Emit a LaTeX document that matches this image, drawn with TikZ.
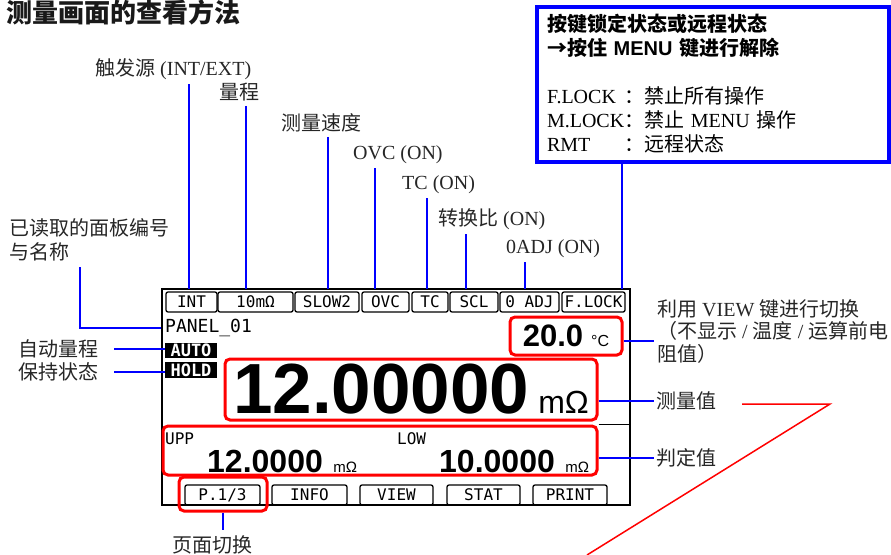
\documentclass[tikz,border=0pt]{standalone}
\usepackage{fontspec}
\setmainfont{Liberation Serif}
\setsansfont{Liberation Sans}
\newfontfamily\cjk{Noto Sans CJK SC}
\newfontfamily\lcd{DejaVu Sans Mono}
\newcommand\zh[1]{{\cjk #1}}
\usepackage{tikz}
\usetikzlibrary{positioning}

\begin{document}
\begin{tikzpicture}[x=1pt, y=-1pt,
    lbl/.style={inner sep=2pt, text=black!85, font=\fontsize{20}{24}\selectfont},
    lead/.style={draw=blue, line width=2pt},
    hl/.style={draw=red, line width=3pt, rounded corners=5pt, inner sep=0pt},
    tab/.style={draw, line width=1.3pt, rounded corners=2pt, inner sep=0pt, minimum height=20pt, font=\lcd\fontsize{16}{18}\selectfont},
    rev/.style={fill=black, text=white, inner sep=0pt, minimum width=52pt, font=\lcd\bfseries\fontsize{17}{17}\selectfont},
    big/.style={inner sep=0pt, font=\sffamily\bfseries\fontsize{32}{32}\selectfont},
    unit/.style={inner sep=0pt, font=\sffamily\fontsize{15}{15}\selectfont}
]
\useasboundingbox (0,0) rectangle (891,554);
\clip (0,0) rectangle (891,554);

\node[anchor=base west, inner sep=0pt, text=black!90, font=\cjk\bfseries\fontsize{26}{30}\selectfont] (title) at (6,23) {测量画面的查看方法};

% screen
\node[draw, line width=1.5pt, minimum width=468pt, minimum height=216pt, inner sep=0pt] (frame) at (396,397) {};
\node[tab, minimum width=51pt] (tInt) at (191.5,302) {INT};
\node[tab, minimum width=75pt] (tRange) at (255.5,302) {10mΩ};
\node[tab, minimum width=64pt] (tSpeed) at (327,302) {SLOW2};
\node[tab, minimum width=47pt] (tOvc) at (385.5,302) {OVC};
\node[tab, minimum width=36pt] (tTc) at (430,302) {TC};
\node[tab, minimum width=48pt] (tScl) at (474,302) {SCL};
\node[tab, minimum width=59pt] (tAdj) at (529.5,302) {0 ADJ};
\node[tab, minimum width=63pt] (tLock) at (593.5,302) {F.LOCK};
\node[anchor=west, inner sep=0pt, font=\lcd\fontsize{18}{18}\selectfont] (pnl) at (165,328) {PANEL\_01};
\node[rev, minimum height=15pt] (autobox) at (191,350.5) {AUTO};
\node[rev, minimum height=16pt] (holdbox) at (191,370) {HOLD};
\node[hl, minimum width=112pt, minimum height=38pt] (temp) at (566,336) {{\sffamily\bfseries\fontsize{31}{31}\selectfont 20.0}\hspace{8pt}{\sffamily\fontsize{16}{16}\selectfont °C}};
\node[hl, minimum width=372pt, minimum height=61pt] (meas) at (411,389.5) {{\sffamily\bfseries\fontsize{71}{71}\selectfont 12.00000}\hspace{9pt}{\sffamily\fontsize{32}{32}\selectfont mΩ}};
\node[hl, minimum width=434pt, minimum height=49pt] (judge) at (380,450.5) {};
\node[anchor=west, inner sep=0pt, font=\lcd\fontsize{16}{16}\selectfont] (upp) at (165,439) {UPP};
\node[anchor=west, inner sep=0pt, font=\lcd\fontsize{16}{16}\selectfont] (low) at (397,439) {LOW};
\node[big, anchor=base west] (uppval) at (207,472) {12.0000};
\node[unit, base right=10pt of uppval] (uppunit) {mΩ};
\node[big, anchor=base west] (lowval) at (439,472) {10.0000};
\node[unit, base right=10pt of lowval] (lowunit) {mΩ};
\draw[line width=1.3pt] (judge.north east) -- (judge.north east -| frame.east);
\node[tab, minimum width=75pt] (fPage) at (222.5,495) {P.1/3};
\node[tab, minimum width=75pt] (fInfo) at (309.5,495) {INFO};
\node[tab, minimum width=73pt] (fView) at (396.5,495) {VIEW};
\node[tab, minimum width=73pt] (fStat) at (483.5,495) {STAT};
\node[tab, minimum width=74pt] (fPrint) at (570,495) {PRINT};
\node[hl, minimum width=88pt, minimum height=34pt] (pagesel) at (223,494) {};

% lock note
\node[draw=blue, line width=4pt, minimum width=352pt, minimum height=155pt, text width=332pt, inner xsep=10pt, align=left, font=\fontsize{20}{24}\selectfont] (lock) at (713,84) {%
{\cjk\bfseries 按键锁定状态或远程状态}\\
{\cjk\bfseries →按住} {\sffamily\bfseries MENU} {\cjk\bfseries 键进行解除}\\[24pt]
\makebox[3.86em][l]{F.LOCK}\zh{：禁止所有操作}\\
\makebox[3.86em][l]{M.LOCK}\zh{：禁止} MENU \zh{操作}\\
\makebox[3.86em][l]{RMT}\zh{：远程状态}};

% labels
\node[lbl, anchor=base west] (trig) at (93,75) {\zh{触发源} (INT/EXT)};
\node[lbl, anchor=base west] (range) at (217,99) {\zh{量程}};
\node[lbl, anchor=base west] (speed) at (279,130) {\zh{测量速度}};
\node[lbl, anchor=base west] (ovc) at (351,159) {OVC (ON)};
\node[lbl, anchor=base west] (tc) at (400,189) {TC (ON)};
\node[lbl, anchor=base west] (scl) at (436,225) {\zh{转换比} (ON)};
\node[lbl, anchor=base west] (adj) at (504,253) {0ADJ (ON)};
\node[lbl, anchor=north west, align=left, font=\fontsize{20}{24.5}\selectfont] (panel) at (7,216) {\zh{已读取的面板编号}\\\zh{与名称}};
\node[lbl, anchor=west] (autolbl) at (16,349) {\zh{自动量程}};
\node[lbl, anchor=west] (holdlbl) at (16,371.5) {\zh{保持状态}};
\node[lbl, anchor=north west, align=left, font=\fontsize{20}{22.5}\selectfont] (viewlbl) at (655,297) {\zh{利用} VIEW \zh{键进行切换}\\\zh{（不显示} / \zh{温度} / \zh{运算前电}\\\zh{阻值）}};
\node[lbl, anchor=west] (measlbl) at (654,401) {\zh{测量值}};
\node[lbl, anchor=west] (judgelbl) at (654,458) {\zh{判定值}};
\node[lbl] (pagelbl) at (212,545) {\zh{页面切换}};

% leads
\coordinate (pTrig) at (189,289);
\coordinate (pRange) at (246,289);
\coordinate (pSpeed) at (328,289);
\coordinate (pOvc) at (375,289);
\coordinate (pTc) at (427,289);
\coordinate (pScl) at (466,289);
\coordinate (pAdj) at (525,289);
\coordinate (pLock) at (622,289);
\coordinate (kPanel) at (80,328);
\coordinate (cView) at (654,341);
\draw[lead, shorten <=3pt] (pTrig |- trig.south) -- (pTrig);
\draw[lead, shorten <=3pt] (pRange |- range.south) -- (pRange);
\draw[lead, shorten <=3pt] (pSpeed |- speed.south) -- (pSpeed);
\draw[lead, shorten <=3pt] (pOvc |- ovc.south) -- (pOvc);
\draw[lead, shorten <=3pt] (pTc |- tc.south) -- (pTc);
\draw[lead, shorten <=3pt] (pScl |- scl.south) -- (pScl);
\draw[lead, shorten <=3pt] (pAdj |- adj.south) -- (pAdj);
\draw[lead] (pLock |- lock.south) -- (pLock);
\draw[lead, shorten <=4pt] (kPanel |- panel.south) |- (frame.west |- pnl.west);
\draw[lead, shorten <=14pt] (autolbl.east) -- (autolbl.east -| autobox.west);
\draw[lead, shorten <=14pt] (holdlbl.east) -- (holdlbl.east -| holdbox.west);
\draw[lead] (cView -| temp.east) -- (cView);
\draw[lead] (measlbl.west -| meas.east) -- (measlbl.west);
\draw[lead] (judgelbl.west -| judge.east) -- (judgelbl.west);
\draw[lead, shorten >=4pt] (pagesel.south) -- (pagesel.south |- pagelbl.north);

% red strokes
\coordinate (r1) at (742,404);
\coordinate (r2) at (830,404);
\coordinate (r3) at (587,555);
\draw[red, line width=1.5pt] (r1) -- (r2) -- (r3);
\end{tikzpicture}
\end{document}
